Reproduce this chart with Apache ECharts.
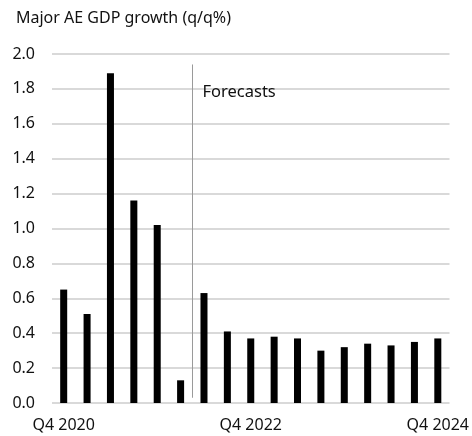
<!DOCTYPE html>
<html>
<head>
<meta charset="utf-8">
<script src="https://cdn.jsdelivr.net/npm/echarts@6/dist/echarts.min.js"></script>
<style>
  html, body { margin: 0; padding: 0; background: #fff; }
  #chart { width: 472px; height: 436px; }
</style>
</head>
<body>
<div id="chart"></div>
<script>
// Quarterly GDP growth, major advanced economies (q/q %)
const quarters = [
  'Q4 2020', 'Q1 2021', 'Q2 2021', 'Q3 2021', 'Q4 2021',
  'Q1 2022', 'Q2 2022', 'Q3 2022', 'Q4 2022',
  'Q1 2023', 'Q2 2023', 'Q3 2023', 'Q4 2023',
  'Q1 2024', 'Q2 2024', 'Q3 2024', 'Q4 2024'
];
const growth = [0.65, 0.51, 1.89, 1.16, 1.02, 0.13, 0.63, 0.41, 0.37, 0.38, 0.37, 0.30, 0.32, 0.34, 0.33, 0.35, 0.37];
const yTicks = { min: 0, max: 2, step: 0.2 };
const forecastStart = 6;          // first forecast quarter index
const forecastLineSpan = [1.94, 0.03];

const FONT = '"Noto Sans", sans-serif';
const chart = echarts.init(document.getElementById('chart'), null, { renderer: 'canvas' });

chart.setOption({
  animation: false,
  backgroundColor: '#ffffff',
  title: {
    text: 'Major AE GDP growth (q/q%)',
    left: 11, top: 5,
    textStyle: { fontFamily: FONT, fontSize: 16, fontWeight: 'normal', color: '#111' }
  },
  grid: { left: 52, right: 22, top: 54, bottom: 33 },
  xAxis: {
    type: 'category',
    data: quarters,
    axisLine: { show: false },
    axisTick: { show: false },
    axisLabel: {
      interval: 7,
      margin: 14,
      fontFamily: FONT, fontSize: 16, color: '#111'
    }
  },
  yAxis: {
    type: 'value',
    min: yTicks.min, max: yTicks.max, interval: yTicks.step,
    axisLine: { show: false },
    axisTick: { show: false },
    axisLabel: {
      margin: 17,
      formatter: v => v.toFixed(1),
      fontFamily: FONT, fontSize: 16, color: '#111'
    },
    splitLine: { lineStyle: { color: '#d9d9d9', width: 2 } }
  },
  series: [{
    type: 'bar',
    data: growth,
    barWidth: '30%',
    itemStyle: { color: '#000' }
  }]
});

// Divider between outturns and forecasts, placed between two category bands
function drawForecastMarker() {
  const a = chart.convertToPixel({ xAxisIndex: 0, yAxisIndex: 0 }, [forecastStart - 1, forecastLineSpan[0]]);
  const b = chart.convertToPixel({ xAxisIndex: 0, yAxisIndex: 0 }, [forecastStart, forecastLineSpan[1]]);
  const x = Math.round((a[0] + b[0]) / 2) + 0.5;
  const yLabel = chart.convertToPixel({ yAxisIndex: 0 }, 1.78);
  chart.setOption({
    graphic: [
      {
        type: 'line',
        shape: { x1: x, y1: a[1], x2: x, y2: b[1] },
        style: { stroke: '#9a9a9a', lineWidth: 1 },
        z: 10
      },
      {
        type: 'text',
        x: x + 10, y: yLabel,
        style: {
          text: 'Forecasts',
          fontFamily: FONT, fontSize: 16.5, fill: '#111',
          textVerticalAlign: 'middle'
        },
        z: 10
      }
    ]
  });
}
drawForecastMarker();
</script>
</body>
</html>
